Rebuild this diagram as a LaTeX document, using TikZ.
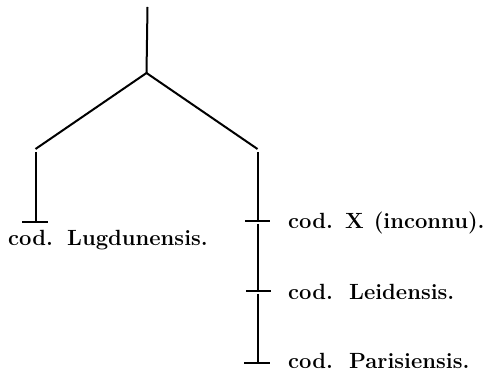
\documentclass[tikz,border=0pt]{standalone}
\begin{document}
\begin{tikzpicture}[x=1pt,y=-1pt,
  edge/.style={line width=2pt},
  tick/.style={line width=1.8pt},
  lbl/.style={anchor=base west,inner sep=0pt,font=\fontsize{22}{26}\selectfont\bfseries}]
\useasboundingbox (0,0) rectangle (498,371);
% coordinates
\coordinate (top) at (147.5,7);
\coordinate (root) at (146.5,73);
\coordinate (lb) at (35.5,149);
\coordinate (rb) at (257.5,149);
\coordinate (lv) at (36,152);
\coordinate (lt) at (36,222);
\coordinate (rv) at (257.5,152);
\coordinate (r1) at (257.5,221);
\coordinate (r1b) at (257.5,224);
\coordinate (r2) at (257.5,291);
\coordinate (r2b) at (257.5,294);
\coordinate (r3) at (257.5,363);
% labels
\node[lbl] (codl) at (8,246) {cod.};
\node[lbl] (lug) at (67,246) {Lugdunensis.};
\node[lbl] (codx) at (288,229) {cod.};
\node[lbl] (x) at (345,229) {X\hspace{0.45em}(inconnu).};
\node[lbl] (codle) at (288,300) {cod.};
\node[lbl] (lei) at (349,300) {Leidensis.};
\node[lbl] (codp) at (288,368) {cod.};
\node[lbl] (par) at (349,368) {Parisiensis.};
% tree
\draw[edge] (top) -- (root);
\draw[edge] (root) -- (lb);
\draw[edge] (root) -- (rb);
\draw[edge] (lv) -- (lt);
\draw[tick] ([xshift=-14pt]lt) -- ([xshift=12pt]lt);
\draw[edge] (rv) -- (r1);
\draw[tick] ([xshift=-12.5pt]r1) -- ([xshift=12.5pt]r1);
\draw[edge] (r1b) -- (r2);
\draw[tick] ([xshift=-11.5pt]r2) -- ([xshift=13.5pt]r2);
\draw[edge] (r2b) -- (r3);
\draw[tick] ([xshift=-13.5pt]r3) -- ([xshift=12.5pt]r3);
\end{tikzpicture}
\end{document}
